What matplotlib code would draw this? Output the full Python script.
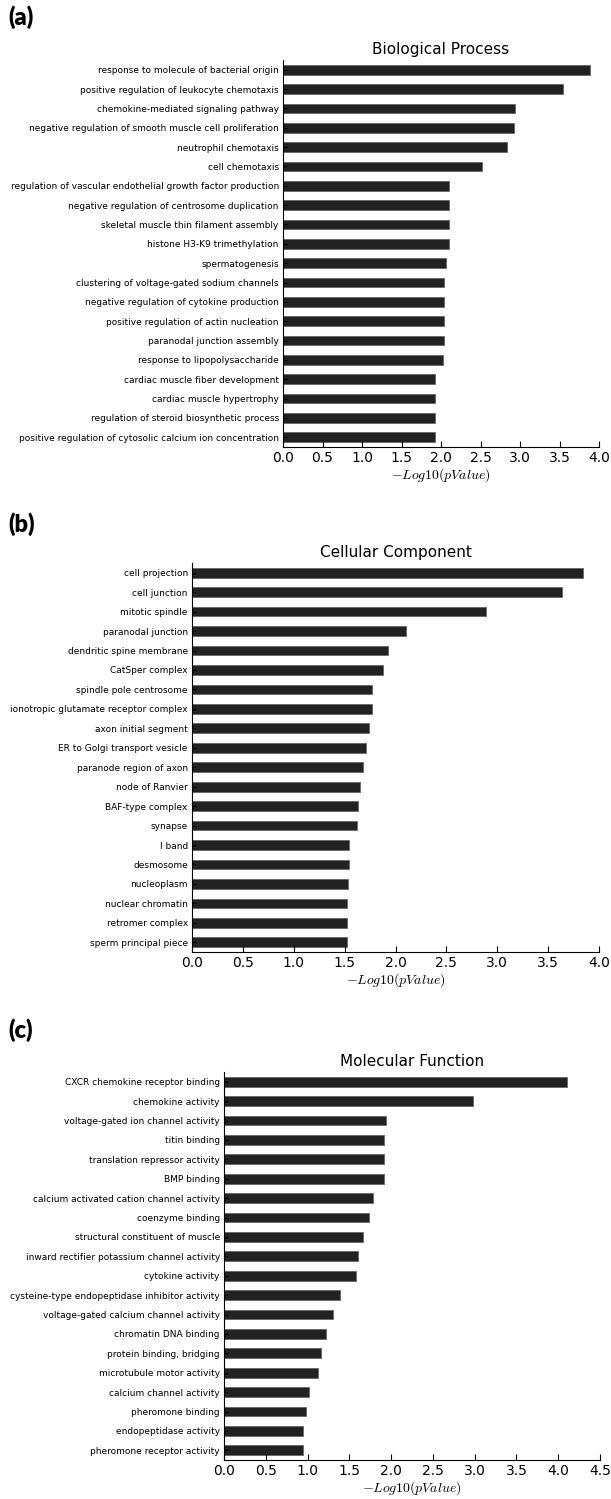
import numpy as np
import matplotlib.pyplot as plt

plt.rcParams['mathtext.fontset'] = 'cm'

# GO enrichment, -log10(p), read top to bottom
bp_terms = [
    'response to molecule of bacterial origin',
    'positive regulation of leukocyte chemotaxis',
    'chemokine-mediated signaling pathway',
    'negative regulation of smooth muscle cell proliferation',
    'neutrophil chemotaxis',
    'cell chemotaxis',
    'regulation of vascular endothelial growth factor production',
    'negative regulation of centrosome duplication',
    'skeletal muscle thin filament assembly',
    'histone H3-K9 trimethylation',
    'spermatogenesis',
    'clustering of voltage-gated sodium channels',
    'negative regulation of cytokine production',
    'positive regulation of actin nucleation',
    'paranodal junction assembly',
    'response to lipopolysaccharide',
    'cardiac muscle fiber development',
    'cardiac muscle hypertrophy',
    'regulation of steroid biosynthetic process',
    'positive regulation of cytosolic calcium ion concentration',
]
bp_vals = [3.89, 3.55, 2.94, 2.92, 2.83, 2.52, 2.10, 2.10, 2.10, 2.10,
           2.06, 2.04, 2.04, 2.04, 2.04, 2.03, 1.93, 1.93, 1.93, 1.93]

cc_terms = [
    'cell projection',
    'cell junction',
    'mitotic spindle',
    'paranodal junction',
    'dendritic spine membrane',
    'CatSper complex',
    'spindle pole centrosome',
    'ionotropic glutamate receptor complex',
    'axon initial segment',
    'ER to Golgi transport vesicle',
    'paranode region of axon',
    'node of Ranvier',
    'BAF-type complex',
    'synapse',
    'I band',
    'desmosome',
    'nucleoplasm',
    'nuclear chromatin',
    'retromer complex',
    'sperm principal piece',
]
cc_vals = [3.84, 3.64, 2.89, 2.10, 1.93, 1.88, 1.77, 1.77, 1.74, 1.71,
           1.68, 1.65, 1.63, 1.62, 1.54, 1.54, 1.53, 1.52, 1.52, 1.52]

mf_terms = [
    'CXCR chemokine receptor binding',
    'chemokine activity',
    'voltage-gated ion channel activity',
    'titin binding',
    'translation repressor activity',
    'BMP binding',
    'calcium activated cation channel activity',
    'coenzyme binding',
    'structural constituent of muscle',
    'inward rectifier potassium channel activity',
    'cytokine activity',
    'cysteine-type endopeptidase inhibitor activity',
    'voltage-gated calcium channel activity',
    'chromatin DNA binding',
    'protein binding, bridging',
    'microtubule motor activity',
    'calcium channel activity',
    'pheromone binding',
    'endopeptidase activity',
    'pheromone receptor activity',
]
mf_vals = [4.10, 2.98, 1.94, 1.92, 1.92, 1.92, 1.78, 1.74, 1.66, 1.60,
           1.58, 1.39, 1.31, 1.22, 1.16, 1.13, 1.02, 0.98, 0.94, 0.94]

W, H = 611, 1499
fig = plt.figure(figsize=(W / 100, H / 100), dpi=100)

# (tag, title, terms, values, xmax, left, right, top, bottom, tag y) in pixels
panels = [
    ('(a)', 'Biological Process', bp_terms, bp_vals, 4.0, 283, 599, 60, 447, 17),
    ('(b)', 'Cellular Component', cc_terms, cc_vals, 4.0, 192, 599, 563, 952, 524),
    ('(c)', 'Molecular Function', mf_terms, mf_vals, 4.5, 224, 600, 1072, 1460, 1030),
]

for tag, title, terms, vals, xmax, l, r, t, b, tag_y in panels:
    ax = fig.add_axes([l / W, 1 - b / H, (r - l) / W, (b - t) / H])
    y = np.arange(len(terms))
    ax.barh(y, vals, height=0.5, color='#222222', edgecolor='#666666', linewidth=0.6)
    ax.set_ylim(len(terms) - 0.5, -0.5)
    ax.set_xlim(0, xmax)
    ax.set_xticks(np.arange(0, xmax + 0.01, 0.5))
    ax.set_yticks(y)
    ax.set_yticklabels(terms, fontsize=6.5)
    ax.tick_params(axis='x', direction='in', length=4, labelsize=10, pad=3)
    ax.tick_params(axis='y', direction='in', length=3, pad=3)
    for s in ['top', 'right']:
        ax.spines[s].set_visible(False)
    ax.set_title(title, fontsize=11, pad=4)
    ax.set_xlabel(r'$-Log10(pValue)$', fontsize=10, labelpad=1)
    fig.text(8 / W, 1 - tag_y / H, tag, fontsize=17, fontweight='heavy',
             family=['Lato', 'DejaVu Sans'], va='center', ha='left')

fig.savefig('out.png', dpi=100)
